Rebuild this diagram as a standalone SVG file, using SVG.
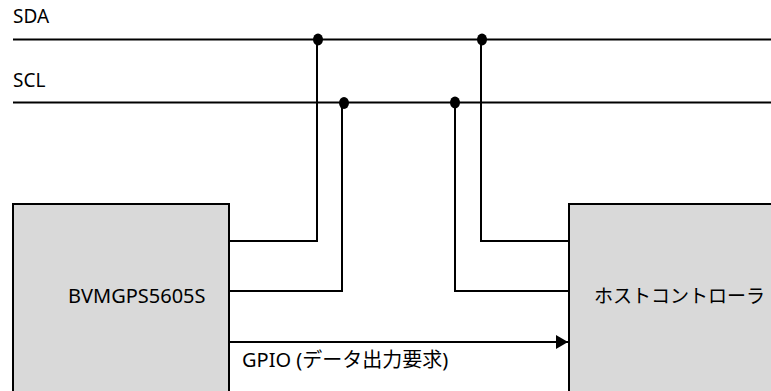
<svg xmlns="http://www.w3.org/2000/svg" width="771" height="391" viewBox="0 0 771 391">
<style>
.w{fill:none;stroke:#000;stroke-width:2}
.box{fill:#d9d9d9;stroke:#000;stroke-width:2}
.dot{fill:#000}
.lat{font-family:"Noto Sans","Liberation Sans",sans-serif;fill:#000}
.jp{font-family:"Noto Sans CJK JP",sans-serif;fill:#000}
</style>
<defs>
<marker id="ah" markerWidth="12" markerHeight="14" refX="12" refY="7" orient="auto" markerUnits="userSpaceOnUse">
<path d="M0,0 L12,7 L0,14 Z" fill="#000"/>
</marker>
</defs>
<g id="bus">
<text class="lat" x="13" y="23" font-size="19">SDA</text>
<text class="lat" x="13" y="87" font-size="19">SCL</text>
<line class="w" x1="13" y1="39.5" x2="771" y2="39.5"/>
<line class="w" x1="13" y1="102.5" x2="771" y2="102.5"/>
</g>
<g id="bvm">
<rect class="box" x="13" y="204" width="216" height="200"/>
<text class="lat" x="68" y="303" font-size="20">BVMGPS5605S</text>
</g>
<g id="host">
<rect class="box" x="569" y="204" width="220" height="200"/>
<text class="jp" x="594" y="303" font-size="19">ホストコントローラ</text>
</g>
<g id="connectors">
<polyline class="w" points="229,241 317,241 317,39.5"/>
<polyline class="w" points="229,291 342,291 342,102.5"/>
<polyline class="w" points="569,241 481,241 481,39.5"/>
<polyline class="w" points="569,291 455,291 455,102.5"/>
<ellipse class="dot" cx="318" cy="39.5" rx="5" ry="6"/>
<ellipse class="dot" cx="482" cy="39.5" rx="5" ry="6"/>
<ellipse class="dot" cx="344" cy="103" rx="5" ry="6"/>
<ellipse class="dot" cx="455" cy="102.5" rx="5" ry="6"/>
<line class="w" x1="229" y1="342" x2="568" y2="342" marker-end="url(#ah)"/>
<text x="242" y="367" font-size="20"><tspan class="lat">GPIO (</tspan><tspan class="jp">データ出力要求</tspan><tspan class="lat">)</tspan></text>
</g>
</svg>
